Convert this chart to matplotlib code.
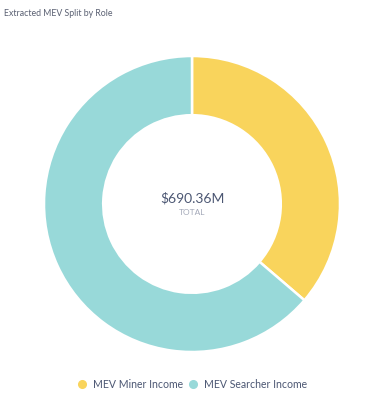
import matplotlib.pyplot as plt
from matplotlib.lines import Line2D

plt.rcParams['font.family'] = ['Lato', 'DejaVu Sans']

labels = ['MEV Miner Income', 'MEV Searcher Income']
values = [250.4, 439.96]   # $M
colors = ['#F9D45C', '#98D9D9']
total_label = '$690.36M'

fig = plt.figure(figsize=(3.84, 3.95), dpi=100)
ax = fig.add_axes([44 / 384, 43 / 395, 296 / 384, 296 / 395])

ax.pie(values, colors=colors, startangle=90, counterclock=False, radius=1.0,
       wedgeprops=dict(width=0.4, edgecolor='white', linewidth=1.8))
ax.set_xlim(-1, 1)
ax.set_ylim(-1, 1)
ax.set_aspect('auto')
ax.axis('off')

ax.text(0, 0.04, total_label, ha='center', va='center', fontsize=10, color='#4C5773')
ax.text(0, -0.055, 'TOTAL', ha='center', va='center', fontsize=6, color='#A3A8B8')

fig.text(4 / 384, 1 - 14 / 395, 'Extracted MEV Split by Role', ha='left', va='center',
         fontsize=6.3, color='#5A6072')

handles = [Line2D([], [], marker='o', linestyle='', markersize=5.5, color=c) for c in colors]
fig.legend(handles, labels, loc='center', bbox_to_anchor=(0.5, 1 - 384 / 395), ncol=2,
           frameon=False, fontsize=7.6, handletextpad=0.55, columnspacing=0.5,
           handlelength=1.0, labelcolor='#4C5773')

fig.savefig('out.png', dpi=100, facecolor='white')
